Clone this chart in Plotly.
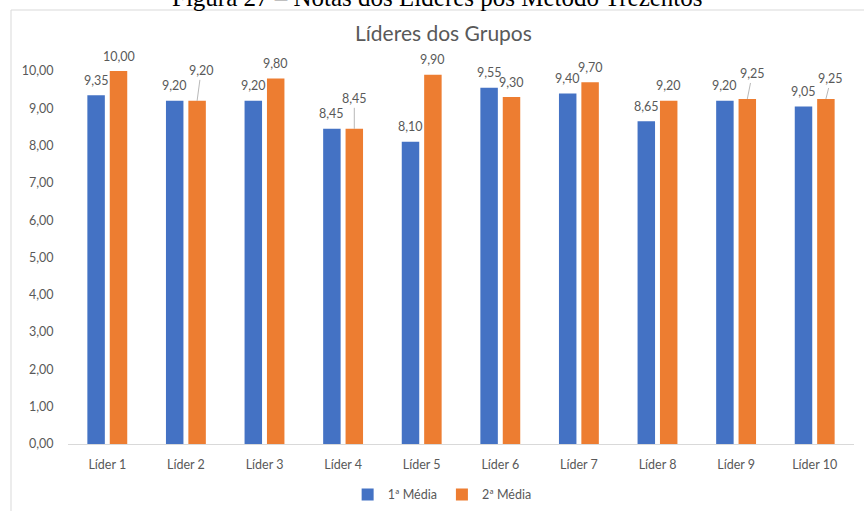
import plotly.graph_objects as go

categories = ["Líder 1", "Líder 2", "Líder 3", "Líder 4", "Líder 5",
              "Líder 6", "Líder 7", "Líder 8", "Líder 9", "Líder 10"]
media1 = [9.35, 9.20, 9.20, 8.45, 8.10, 9.55, 9.40, 8.65, 9.20, 9.05]
media2 = [10.00, 9.20, 9.80, 8.45, 9.90, 9.30, 9.70, 9.20, 9.25, 9.25]
series_names = ["1ª Média", "2ª Média"]
yticks = [0, 1, 2, 3, 4, 5, 6, 7, 8, 9, 10]

# labels on the orange series that are lifted with a leader line (dx, dy pixels)
leader2 = {1: (4, -30), 3: (0, -30), 8: (5, -25), 9: (5, -20)}

BLUE = "#4472C4"
ORANGE = "#ED7D31"
GRAY = "#595959"
FONT = "Lato"


def fmt(v):
    return f"{v:.2f}".replace(".", ",")


fig = go.Figure()
fig.add_trace(go.Bar(x=categories, y=media1, name=series_names[0],
                     marker=dict(color=BLUE, line=dict(width=0))))
fig.add_trace(go.Bar(x=categories, y=media2, name=series_names[1],
                     marker=dict(color=ORANGE, line=dict(width=0))))

annotations = []
OFF = 11.2
for i, c in enumerate(categories):
    annotations.append(dict(x=c, y=media1[i], xref="x", yref="y", text=fmt(media1[i]),
                            showarrow=False, xshift=-OFF, yshift=15, yanchor="middle",
                            font=dict(family=FONT, size=12.5, color=GRAY)))
    if i in leader2:
        dx, dy = leader2[i]
        annotations.append(dict(x=c, y=media2[i], xref="x", yref="y", text=fmt(media2[i]),
                                showarrow=True, arrowhead=0, arrowwidth=0.8,
                                arrowcolor="#A6A6A6", ax=dx, ay=dy, xshift=OFF,
                                standoff=0, startstandoff=0,
                                font=dict(family=FONT, size=12.5, color=GRAY)))
    else:
        annotations.append(dict(x=c, y=media2[i], xref="x", yref="y", text=fmt(media2[i]),
                                showarrow=False, xshift=OFF, yshift=15, yanchor="middle",
                                font=dict(family=FONT, size=12.5, color=GRAY)))

# chart title and document caption (caption is partly cut at the top edge, as in the source)
annotations.append(dict(x=0.4777, y=1.1019, xref="paper", yref="paper",
                        text="Líderes dos Grupos", showarrow=False,
                        xanchor="center", yanchor="middle",
                        font=dict(family=FONT, size=21, color=GRAY)))
annotations.append(dict(x=0.4695, y=1.198, xref="paper", yref="paper",
                        text="Figura 27 – Notas dos Líderes pós Método Trezentos",
                        showarrow=False, xanchor="center", yanchor="middle",
                        font=dict(family="Liberation Serif", size=25, color="#000000")))

fig.update_layout(
    width=864, height=511,
    margin=dict(l=68, r=10, t=71, b=67, autoexpand=False),
    paper_bgcolor="white", plot_bgcolor="white",
    barmode="group", bargap=0.43, bargroupgap=0.22,
    showlegend=True,
    legend=dict(orientation="h", x=0.476, y=-0.1367, xanchor="center", yanchor="middle",
                font=dict(family=FONT, size=12.5, color=GRAY), itemwidth=30,
                traceorder="normal"),
    annotations=annotations,
    shapes=[dict(type="rect", xref="paper", yref="paper",
                 x0=-0.0725, x1=1.03, y0=-0.25, y1=1.1635,
                 line=dict(color="#D9D9D9", width=1), fillcolor="rgba(0,0,0,0)",
                 layer="below")],
)
fig.update_xaxes(showline=True, linecolor="#D9D9D9", linewidth=1, showgrid=False,
                 ticks="outside", ticklen=9, tickcolor="rgba(0,0,0,0)",
                 tickfont=dict(family=FONT, size=12.5, color=GRAY))
fig.update_yaxes(range=[0, 10], tickvals=yticks, ticktext=[fmt(v) for v in yticks],
                 showgrid=False, zeroline=False, showline=False,
                 ticks="outside", ticklen=11, tickcolor="rgba(0,0,0,0)",
                 tickfont=dict(family=FONT, size=12.5, color=GRAY))

fig.write_html("out.html", config={"displayModeBar": False},
               post_script="document.body.style.margin='0';")
